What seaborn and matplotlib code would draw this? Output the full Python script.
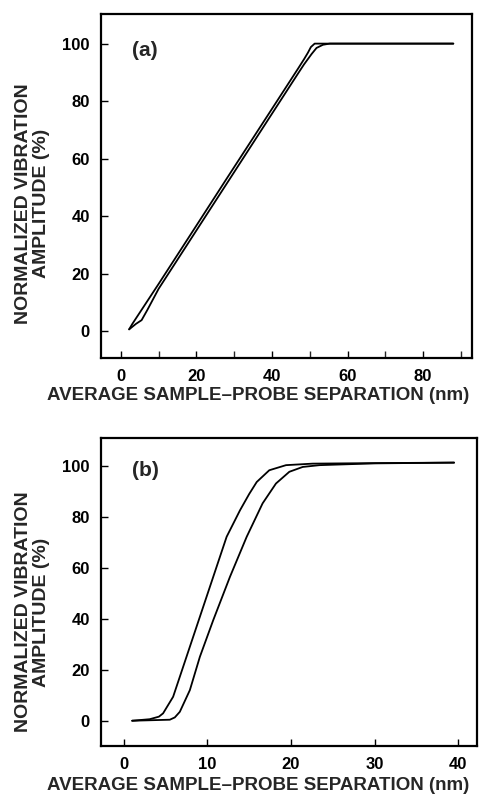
import matplotlib
matplotlib.use("Agg")
import matplotlib.pyplot as plt
import seaborn as sns

# panel (a): the two curves
a_x1 = [2.2, 3.0, 10, 20, 28, 40, 47, 48.5, 49.5, 50.3, 51.3, 60, 88]
a_y1 = [0.6, 2.4, 16.4, 36.7, 53.0, 77.3, 91.5, 94.6, 96.8, 98.8, 100, 100, 100]
a_x2 = [2.2, 4.0, 5.5, 7.0, 10, 20, 30, 40, 47, 48.5, 49.5, 50.5, 51.8, 53.5, 55.3, 60, 88]
a_y2 = [0.6, 2.5, 3.8, 7.3, 14.7, 35.0, 55.3, 75.6, 89.8, 92.8, 94.6, 96.4, 98.5, 99.6, 100, 100, 100]

# panel (b)
b_x1 = [1, 3.1, 4.2, 4.7, 5.9, 7.5, 9.1, 10.7, 12.3, 13.9, 15.0, 15.9, 17.4, 19.4, 22.6, 30, 39.5]
b_y1 = [0, 0.6, 1.6, 2.9, 9.4, 25.1, 40.8, 56.5, 72.2, 82.6, 89.0, 93.7, 98.3, 100.3, 100.9, 101.1, 101.3]
b_x2 = [1, 5.5, 6.1, 6.7, 7.9, 9.1, 10.7, 12.7, 14.7, 16.6, 18.2, 19.8, 21.4, 23.4, 30, 39.5]
b_y2 = [0, 0.4, 1.3, 3.5, 12, 25.1, 39.5, 56.5, 72.2, 85.3, 93.1, 97.7, 99.6, 100.3, 101.0, 101.3]

yticks = [0, 20, 40, 60, 80, 100]
ylab = "NORMALIZED VIBRATION\nAMPLITUDE (%)"
xlab = "AVERAGE SAMPLE\u2013PROBE SEPARATION (nm)"

sns.set_theme(style="ticks")
plt.rcParams["font.family"] = ["Liberation Sans", "DejaVu Sans"]

fig = plt.figure(figsize=(4.8, 7.94), dpi=100)
ax1 = fig.add_axes([0.210, 0.549, 0.773, 0.433])
ax2 = fig.add_axes([0.210, 0.0605, 0.783, 0.388])

for xs, ys, ax in [(a_x1, a_y1, ax1), (a_x2, a_y2, ax1),
                   (b_x1, b_y1, ax2), (b_x2, b_y2, ax2)]:
    sns.lineplot(x=xs, y=ys, ax=ax, color="black", lw=1.3)

ax1.set_xlim(-5.3, 92.9)
ax1.set_ylim(-9.4, 110.2)
ax1.set_xticks([0, 20, 40, 60, 80])
ax1.set_xticks(range(10, 100, 20), minor=True)
ax2.set_xlim(-2.75, 42.2)
ax2.set_ylim(-9.9, 111)
ax2.set_xticks([0, 10, 20, 30, 40])

# (axes, tag, xlabel x, xlabel y, ylabel x, ylabel y)
layout = [(ax1, "(a)", 0.423, -0.085, -0.137, 0.45),
          (ax2, "(b)", 0.418, -0.10, -0.136, 0.435)]

for ax, tag, xlx, xly, ylx, yly in layout:
    ax.set_yticks(yticks)
    ax.tick_params(direction="in", length=5, width=1, labelsize=12,
                   colors="black", pad=8)
    ax.tick_params(which="minor", direction="in", length=5, width=1,
                   bottom=True)
    for lbl in ax.get_xticklabels() + ax.get_yticklabels():
        lbl.set_fontweight("bold")
    for s in ax.spines.values():
        s.set_linewidth(1.6)
        s.set_color("black")
    ax.set_xlabel(xlab, fontsize=13.5, fontweight="bold")
    ax.xaxis.set_label_coords(xlx, xly)
    ax.set_ylabel(ylab, fontsize=14, fontweight="bold", linespacing=1.05)
    ax.yaxis.set_label_coords(ylx, yly)
    ax.text(0.084, 0.895, tag, transform=ax.transAxes, fontsize=15,
            fontweight="bold", va="center", ha="left")

fig.savefig("out.png", dpi=100)
